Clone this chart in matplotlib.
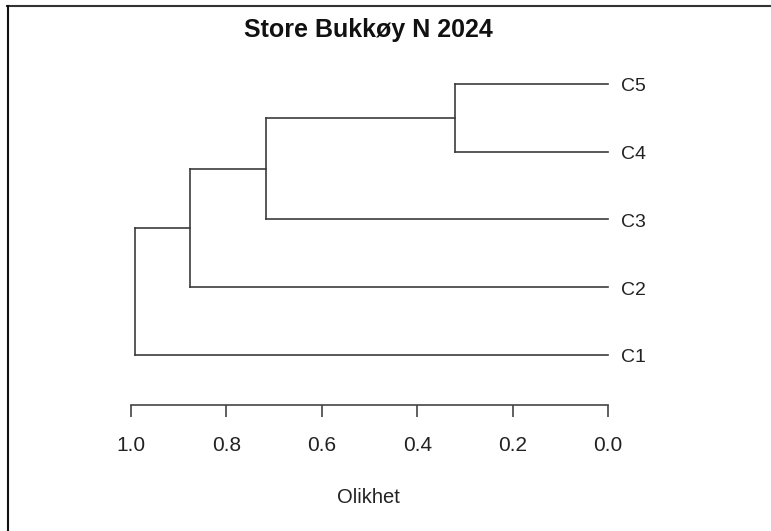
import matplotlib
matplotlib.use("Agg")
import matplotlib.pyplot as plt
import matplotlib.transforms as mtransforms
from matplotlib.lines import Line2D

# --- data ---
labels = ["C1", "C2", "C3", "C4", "C5"]
# merges in order: (a, b, height); ids >= 5 are earlier merges
merges = [(4, 3, 0.321), (5, 2, 0.717), (6, 1, 0.876), (7, 0, 0.992)]
xticks = [1.0, 0.8, 0.6, 0.4, 0.2, 0.0]
title = "Store Bukkøy N 2024"
xlabel = "Olikhet"

plt.rcParams['font.family'] = ['Liberation Sans', 'DejaVu Sans']

W, H = 771, 531
fig = plt.figure(figsize=(W / 100, H / 100), dpi=100)

# axes: x from px 131 (1.0) to 608 (0.0), y from px 405 (axis) to 84 (top leaf)
y_step = 67.75
y_bot = 1 - (405 - 355) / y_step
ax = fig.add_axes([131 / W, (H - 405) / H, 477 / W, (405 - 84) / H])
ax.set_xlim(1.0, 0.0)
ax.set_ylim(y_bot, 5)

col = '#3c3c3c'
# node positions: leaves at y = 1..5, x = 0
pos = {i: (0.0, i + 1) for i in range(len(labels))}
nid = len(labels)
for a, b, h in merges:
    xa, ya = pos[a]
    xb, yb = pos[b]
    ax.plot([xa, h], [ya, ya], color=col, lw=1.2, clip_on=False)
    ax.plot([xb, h], [yb, yb], color=col, lw=1.2, clip_on=False)
    ax.plot([h, h], [ya, yb], color=col, lw=1.2, clip_on=False)
    pos[nid] = (h, (ya + yb) / 2)
    nid += 1

# leaf labels: baseline ~7 px below the line, ~13 px right of the leaf end
lab_tr = mtransforms.offset_copy(ax.transData, fig=fig, x=13, y=-7.5, units='dots')
for i, lab in enumerate(labels):
    ax.text(0.0, i + 1, lab, ha='left', va='baseline', fontsize=14,
            color='#222222', transform=lab_tr, clip_on=False)

for s in ['top', 'right', 'left']:
    ax.spines[s].set_visible(False)
ax.spines['bottom'].set_bounds(1.0, 0.0)
ax.spines['bottom'].set_color('#444444')
ax.spines['bottom'].set_linewidth(1.2)
ax.set_yticks([])
ax.set_xticks(xticks)
ax.set_xticklabels([f"{v:.1f}" for v in xticks])
ax.tick_params(axis='x', direction='out', length=8.6, width=1.2, color='#444444',
               labelsize=15, labelcolor='#222222', pad=13.5)

fig.text(368 / W, 1 - 37 / H, title, ha='center', va='baseline', fontsize=18,
         fontweight='bold', color='#111111')
fig.text(368.5 / W, 1 - 503 / H, xlabel, ha='center', va='baseline', fontsize=14.5,
         color='#222222')

# screenshot frame (top and left edges only)
fig.add_artist(Line2D([7 / W, 1], [1 - 6 / H, 1 - 6 / H], color='#333333', lw=1.5))
fig.add_artist(Line2D([8 / W, 8 / W], [0, 1 - 6 / H], color='#111111', lw=1.5))

fig.savefig("out.png", dpi=100)
